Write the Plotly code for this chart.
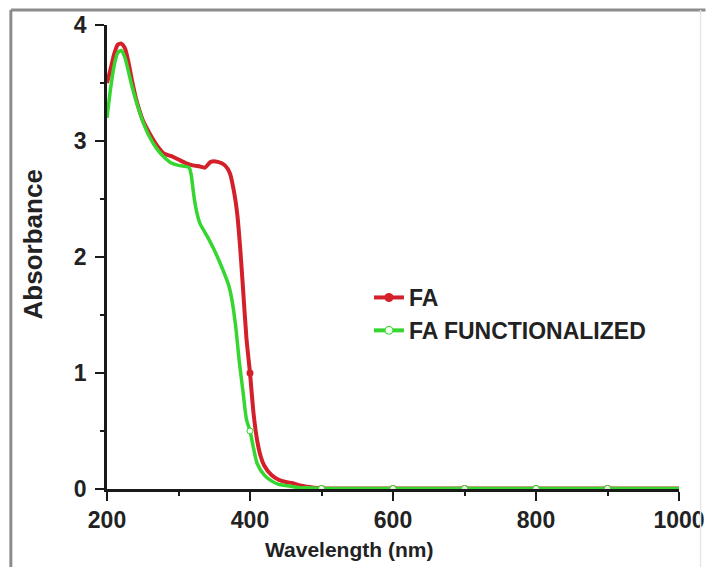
import numpy as np
import plotly.graph_objects as go

# ---------------- data ----------------
fa_wl = [200, 205, 210, 215, 220, 225, 230, 235, 240, 245, 250, 260, 270, 280, 290,
         300, 310, 320, 330, 337, 345, 355, 365, 372, 378, 382, 386, 390, 395, 400,
         405, 410, 415, 420, 430, 440, 450, 460, 470, 480, 490, 500, 550, 600, 650,
         700, 750, 800, 850, 900, 950, 1000]
fa_abs = [3.50, 3.62, 3.75, 3.83, 3.84, 3.80, 3.68, 3.52, 3.38, 3.27, 3.18, 3.06, 2.96, 2.89, 2.87,
          2.84, 2.81, 2.79, 2.78, 2.77, 2.82, 2.82, 2.79, 2.72, 2.55, 2.38, 2.10, 1.75, 1.30, 1.00,
          0.65, 0.42, 0.28, 0.20, 0.12, 0.08, 0.06, 0.05, 0.03, 0.02, 0.01, 0.005, 0.004, 0.004, 0.004,
          0.004, 0.004, 0.005, 0.005, 0.005, 0.004, 0.004]

faf_wl = [200, 205, 210, 215, 220, 225, 230, 235, 240, 245, 250, 260, 270, 280, 290,
          300, 310, 315, 318, 321, 325, 330, 340, 350, 360, 370, 375, 380, 385, 390,
          395, 400, 405, 410, 420, 430, 440, 450, 460, 470, 480, 500, 550, 600, 650,
          700, 750, 800, 850, 900, 950, 1000]
faf_abs = [3.20, 3.45, 3.65, 3.76, 3.78, 3.72, 3.60, 3.47, 3.36, 3.26, 3.17, 3.03, 2.93, 2.86, 2.81,
           2.79, 2.78, 2.77, 2.70, 2.55, 2.40, 2.29, 2.18, 2.06, 1.92, 1.76, 1.62, 1.40, 1.10, 0.85,
           0.60, 0.50, 0.35, 0.22, 0.12, 0.07, 0.04, 0.03, 0.02, 0.01, 0.01, 0.005, 0.004, 0.004, 0.004,
           0.004, 0.004, 0.005, 0.005, 0.005, 0.004, 0.004]

marker_wl = [400, 500, 600, 700, 800, 900]
series_names = ["FA", "FA FUNCTIONALIZED"]
x_ticks = [200, 400, 600, 800, 1000]
y_ticks = [0, 1, 2, 3, 4]

RED = "#d3202a"
GREEN = "#35d62f"
FONT = "Liberation Sans, Arial, sans-serif"

# plot-area pixel geometry (for layout helpers)
W, H = 717, 567
L, R, T, B = 107, 27, 25, 78
PW, PH = W - L - R, H - T - B


def px(xp):
    return (xp - L) / PW


def py(yp):
    return (H - B - yp) / PH


fig = go.Figure()

fa_wl_a, fa_abs_a = np.array(fa_wl), np.array(fa_abs)
faf_wl_a, faf_abs_a = np.array(faf_wl), np.array(faf_abs)
m_fa = np.isin(fa_wl_a, marker_wl)
m_faf = np.isin(faf_wl_a, marker_wl)

# FA curve
fig.add_trace(go.Scatter(x=fa_wl, y=fa_abs, mode="lines", showlegend=False,
                         line=dict(color=RED, width=4, shape="spline", smoothing=0.6)))
fig.add_trace(go.Scatter(x=fa_wl_a[m_fa], y=fa_abs_a[m_fa], mode="markers", showlegend=False,
                         marker=dict(color=RED, size=7, symbol="circle")))
# FA functionalized curve
fig.add_trace(go.Scatter(x=faf_wl, y=faf_abs, mode="lines", showlegend=False,
                         line=dict(color=GREEN, width=3.5, shape="spline", smoothing=0.6)))
fig.add_trace(go.Scatter(x=faf_wl_a[m_faf], y=faf_abs_a[m_faf], mode="markers", showlegend=False,
                         marker=dict(color="#f4fff0", size=6, symbol="circle",
                                     line=dict(color=GREEN, width=1))))

# legend entries
fig.add_trace(go.Scatter(x=[None], y=[None], mode="lines+markers", name=series_names[0],
                         line=dict(color=RED, width=4),
                         marker=dict(color=RED, size=9, symbol="circle")))
fig.add_trace(go.Scatter(x=[None], y=[None], mode="lines+markers", name=series_names[1],
                         line=dict(color=GREEN, width=4),
                         marker=dict(color="#f4fff0", size=8, symbol="circle",
                                     line=dict(color=GREEN, width=1))))

axis_common = dict(
    showline=True, linecolor="#1a1a1a", linewidth=2.5, mirror=False,
    ticks="outside", ticklen=9, tickwidth=2, tickcolor="#1a1a1a",
    showgrid=False, zeroline=False,
    tickfont=dict(family=FONT, size=23, color="#222222", weight="bold"),
)

fig.update_xaxes(range=[200, 1000], tickvals=x_ticks, ticktext=[str(v) for v in x_ticks],
                 minor=dict(ticks="outside", ticklen=4, tickwidth=2, tickcolor="#1a1a1a",
                            dtick=100, tick0=200),
                 ticklabelstandoff=0,
                 **axis_common)
fig.update_yaxes(range=[0, 4], tickvals=y_ticks, ticktext=[str(v) for v in y_ticks],
                 minor=dict(ticks="outside", ticklen=4, tickwidth=2, tickcolor="#1a1a1a",
                            dtick=0.5, tick0=0),
                 ticklabelstandoff=4,
                 **axis_common)

fig.update_layout(
    width=W, height=H,
    margin=dict(l=L, r=R, t=T, b=B),
    paper_bgcolor="white", plot_bgcolor="white",
    font=dict(family=FONT, color="#222222"),
    legend=dict(x=px(374), y=py(276), xanchor="left", yanchor="top",
                bgcolor="rgba(0,0,0,0)", borderwidth=0, tracegroupgap=0,
                font=dict(family=FONT, size=23, color="#222222", weight="bold")),
    annotations=[
        dict(text="Absorbance", xref="paper", yref="paper", x=px(32), y=py(244),
             xanchor="center", yanchor="middle", textangle=-90, showarrow=False,
             font=dict(family=FONT, size=26, color="#222222", weight="bold")),
        dict(text="Wavelength (nm)", xref="paper", yref="paper", x=px(354), y=py(549),
             xanchor="center", yanchor="middle", showarrow=False,
             font=dict(family=FONT, size=21, color="#222222", weight="bold")),
    ],
    shapes=[
        dict(type="line", xref="paper", yref="paper", x0=px(9), x1=px(717), y0=py(10), y1=py(10),
             line=dict(color="#8c8c8c", width=3)),
        dict(type="line", xref="paper", yref="paper", x0=px(9), x1=px(9), y0=py(10), y1=py(567),
             line=dict(color="#8c8c8c", width=3)),
        dict(type="line", xref="paper", yref="paper", x0=px(712), x1=px(712), y0=py(10), y1=py(567),
             line=dict(color="#e6e6e6", width=1.5)),
    ],
)

fig.write_html("out.html")
